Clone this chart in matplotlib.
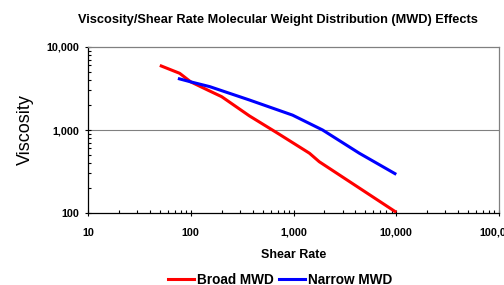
import matplotlib
matplotlib.use("Agg")
import matplotlib.pyplot as plt
import matplotlib.ticker as mticker
from matplotlib.lines import Line2D

# --- data ---
broad_rate = [50, 78, 100, 146, 200, 372, 705, 1430, 1780, 10000]
broad_visc = [6000, 4820, 3800, 3030, 2520, 1480, 910, 525, 415, 102]

narrow_rate = [75, 100, 153, 372, 980, 1920, 4370, 10000]
narrow_visc = [4180, 3800, 3330, 2300, 1510, 1000, 525, 292]

plt.rcParams["font.family"] = ["Liberation Sans", "DejaVu Sans"]

fig = plt.figure(figsize=(5.04, 2.85), dpi=100)
ax = fig.add_axes([88 / 504, 1 - 213 / 285, (499 - 88) / 504, (213 - 47) / 285])

ax.plot(broad_rate, broad_visc, color="#ff0000", lw=2.2, solid_capstyle="butt", zorder=5)
ax.plot(narrow_rate, narrow_visc, color="#0000ff", lw=2.2, solid_capstyle="butt", zorder=5)

ax.set_xscale("log")
ax.set_yscale("log")
ax.set_xlim(10, 100000)
ax.set_ylim(100, 10000)

ax.axhline(1000, color="#808080", lw=0.8, zorder=1)

fmt = mticker.FuncFormatter(lambda v, _: f"{v:,.0f}")
ax.xaxis.set_major_formatter(fmt)
ax.yaxis.set_major_formatter(fmt)
ax.xaxis.set_minor_formatter(mticker.NullFormatter())
ax.yaxis.set_minor_formatter(mticker.NullFormatter())
ax.xaxis.set_major_locator(mticker.LogLocator(base=10, numticks=10))
ax.xaxis.set_minor_locator(mticker.LogLocator(base=10, subs=range(2, 10), numticks=10))
ax.yaxis.set_minor_locator(mticker.LogLocator(base=10, subs=range(2, 10), numticks=10))

ax.tick_params(which="major", direction="inout", length=5, width=0.8, labelsize=7.8)
ax.tick_params(axis="x", which="major", pad=8)
ax.tick_params(axis="y", which="major", pad=4)
ax.tick_params(which="minor", direction="in", length=2.5, width=0.8)
for lab in ax.get_xticklabels() + ax.get_yticklabels():
    lab.set_fontweight("bold")

ax.spines["left"].set_color("black")
ax.spines["bottom"].set_color("black")
ax.spines["top"].set_color("#808080")
ax.spines["right"].set_color("#808080")
for s in ax.spines.values():
    s.set_linewidth(0.9)

ax.set_xlabel("Shear Rate", fontsize=9, fontweight="bold", labelpad=8)
ax.set_ylabel("Viscosity", fontsize=13, labelpad=8.5)

fig.text(278 / 504, 1 - 20 / 285, "Viscosity/Shear Rate Molecular Weight Distribution (MWD) Effects",
         ha="center", va="center", fontsize=9.2, fontweight="bold")

handles = [Line2D([], [], color="#ff0000", lw=2.2), Line2D([], [], color="#0000ff", lw=2.2)]
fig.legend(handles, ["Broad MWD", "Narrow MWD"], loc="center", bbox_to_anchor=(280 / 504, 1 - 280 / 285),
           ncol=2, frameon=False, prop={"size": 9.8, "weight": "bold"},
           handlelength=1.9, handletextpad=0.2, columnspacing=0.4, borderpad=0)

fig.savefig("out.png", dpi=100, facecolor="white")
